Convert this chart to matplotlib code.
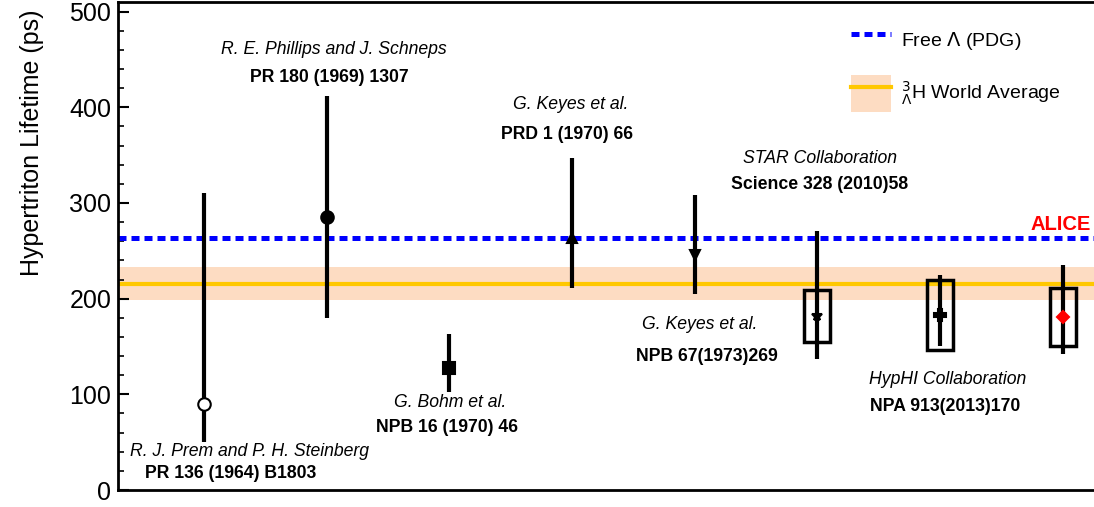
import numpy as np
import matplotlib.pyplot as plt
from matplotlib.lines import Line2D
from matplotlib.patches import Patch, Rectangle
from matplotlib.ticker import MultipleLocator

plt.rcParams['font.family'] = ['Liberation Sans', 'DejaVu Sans']

# measurements (ps)
xpos = [1, 2, 3, 4, 5, 6, 7, 8]
tau = [90, 285, 128, 263, 246, 182, 183, 181]
err_up = [220, 127, 35, 84, 62, 89, 42, 54]
err_dn = [40, 105, 26, 52, 41, 45, 32, 39]
syst = [0, 0, 0, 0, 0, 27, 37, 30]
markers = ['o', 'o', 's', '^', 'v', '*', 'P', 'D']
facecols = ['white', 'black', 'black', 'black', 'black', 'black', 'black', 'red']
edgecols = ['black', 'black', 'black', 'black', 'black', 'black', 'black', 'red']
msizes = [9, 9, 8, 7, 7, 7, 9, 6]

authors = ['R. J. Prem and P. H. Steinberg', 'R. E. Phillips and J. Schneps',
           'G. Bohm et al.', 'G. Keyes et al.', 'G. Keyes et al.',
           'STAR Collaboration', 'HypHI Collaboration']
refs = ['PR 136 (1964) B1803', 'PR 180 (1969) 1307', 'NPB 16 (1970) 46',
        'PRD 1 (1970) 66', 'NPB 67(1973)269', 'Science 328 (2010)58',
        'NPA 913(2013)170']
# label positions (x_author, y_author, x_ref, y_ref)
label_pos = [(1.37, 40, 1.22, 17), (2.06, 460, 2.02, 431), (3.01, 91, 2.98, 65),
             (3.99, 403, 3.96, 372), (5.04, 173, 5.10, 140), (6.02, 346, 6.02, 319),
             (7.06, 116, 7.04, 87)]

tau_free = 263.2
wa = 215
wa_up = 18
wa_dn = 16

fig = plt.figure(figsize=(10.94, 5.07), dpi=100)
ax = fig.add_axes([0.108, 0.0335, 0.897, 0.9625])

ax.set_xlim(0.3, 8.3)
ax.set_ylim(0, 510)

# world average band
band_col = '#fddcc2'
blue_ls = (0, (1.6, 1.0))
ax.axhspan(wa - wa_dn, wa + wa_up, color=band_col, lw=0, zorder=1)
ax.axhline(wa, color='#ffc800', lw=3, zorder=2)
ax.axhline(tau_free, color='#0000ff', lw=3.6, ls=blue_ls, zorder=2)

for i in range(len(xpos)):
    if syst[i] > 0:
        w = 0.21
        ax.add_patch(Rectangle((xpos[i] - w / 2, tau[i] - syst[i]), w, 2 * syst[i],
                               fill=False, ec='black', lw=2.5, zorder=3))
    ax.errorbar(xpos[i], tau[i], yerr=[[err_dn[i]], [err_up[i]]], fmt='none',
                ecolor='black', elinewidth=3, capsize=0, zorder=4)
    ax.plot(xpos[i], tau[i], marker=markers[i], ms=msizes[i], mfc=facecols[i],
            mec=edgecols[i], mew=1.5, ls='none', zorder=5)

for i in range(len(authors)):
    xa, ya, xr, yr = label_pos[i]
    ax.text(xa, ya, authors[i], style='italic', fontsize=12.7, ha='center', va='center')
    ax.text(xr, yr, refs[i], weight='bold', fontsize=12.7, ha='center', va='center')

ax.text(8.23, 278, 'ALICE', color='red', weight='bold', fontsize=14.5, ha='right', va='center')

handles = [Line2D([], [], color='#0000ff', lw=3.6, ls=blue_ls),
           (Patch(facecolor=band_col, lw=0), Line2D([], [], color='#ffc800', lw=3))]
labels = [r'Free $\Lambda$ (PDG)', r'$^{3}_{\Lambda}$H World Average']
ax.legend(handles, labels, loc='upper left', bbox_to_anchor=(0.729, 0.995),
          frameon=False, fontsize=14, handlelength=2.06, handleheight=2.55,
          labelspacing=0.8, handletextpad=0.5)

ax.set_ylabel('Hypertriton Lifetime (ps)', fontsize=18, loc='top')
ax.yaxis.set_label_coords(-0.076, 0.984)
ax.yaxis.set_major_locator(MultipleLocator(100))
ax.yaxis.set_minor_locator(MultipleLocator(20))
ax.tick_params(axis='y', which='major', direction='in', length=8, width=1.5,
               labelsize=18, pad=5)
ax.tick_params(axis='y', which='minor', direction='in', length=4, width=1.2)
ax.set_xticks([])
for s in ax.spines.values():
    s.set_linewidth(2)

fig.savefig('out.png', dpi=100)
